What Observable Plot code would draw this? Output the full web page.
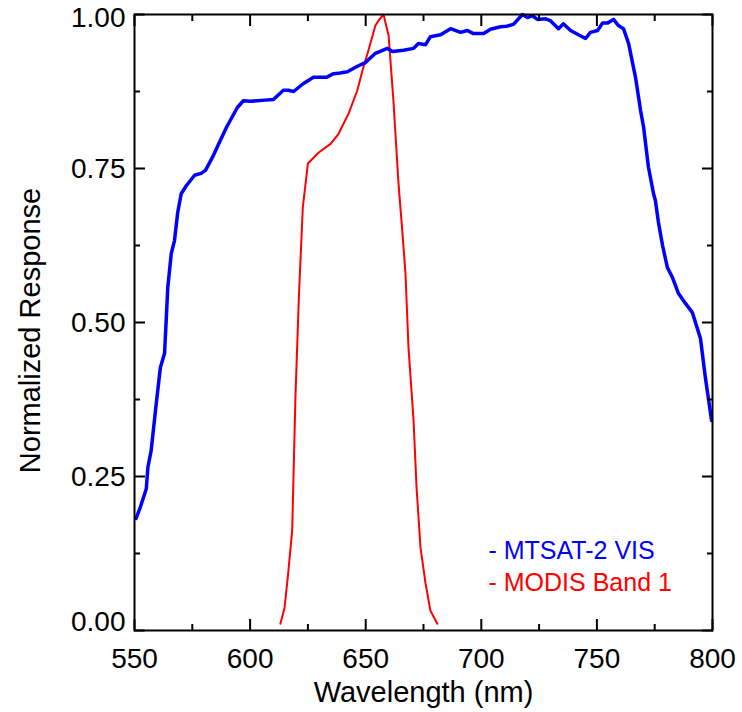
<!DOCTYPE html>
<html>
<head>
<meta charset="utf-8">
<script src="https://cdn.jsdelivr.net/npm/d3@7"></script>
<script src="https://cdn.jsdelivr.net/npm/@observablehq/plot@0.6"></script>
<style>
  html, body { margin: 0; padding: 0; background: #fff; }
  #chart svg { display: block; }
</style>
</head>
<body>
<div id="chart"></div>
<script>
// MTSAT-2 VIS spectral response
const mtsatWavelength = [550.7, 552.5, 555.1, 555.8, 557.2, 559.4, 561.2, 563.0, 563.7, 564.4, 565.9, 567.3, 568.7, 570.2, 572.4, 576.0, 578.8, 580.7, 583.7, 586.3, 589.8, 594.5, 597.1, 600.2, 603.2, 606.5, 610.1, 614.4, 616.5, 618.8, 623.1, 627.4, 630.5, 633.0, 636.1, 639.0, 642.1, 646.4, 649.9, 654.2, 659.4, 661.6, 666.3, 670.7, 672.8, 675.9, 678.0, 682.4, 686.7, 691.0, 694.0, 696.6, 701.0, 704.0, 708.3, 711.0, 713.9, 717.8, 720.0, 722.1, 724.3, 727.8, 729.9, 733.4, 735.5, 738.6, 741.6, 745.1, 747.2, 750.3, 752.4, 754.5, 757.2, 759.3, 761.5, 763.7, 766.7, 768.9, 770.2, 772.3, 774.5, 775.3, 776.6, 778.4, 780.5, 782.7, 785.3, 788.3, 791.3, 794.8, 796.9, 799.6];
const mtsatResponse = [0.182, 0.200, 0.230, 0.265, 0.292, 0.368, 0.427, 0.450, 0.503, 0.557, 0.612, 0.633, 0.679, 0.709, 0.722, 0.739, 0.742, 0.747, 0.768, 0.789, 0.817, 0.849, 0.860, 0.859, 0.860, 0.861, 0.862, 0.877, 0.877, 0.875, 0.888, 0.898, 0.898, 0.898, 0.904, 0.905, 0.907, 0.916, 0.922, 0.937, 0.945, 0.940, 0.942, 0.945, 0.953, 0.951, 0.964, 0.967, 0.977, 0.971, 0.974, 0.969, 0.969, 0.976, 0.980, 0.981, 0.984, 1.000, 0.995, 0.998, 0.992, 0.993, 0.990, 0.977, 0.985, 0.974, 0.968, 0.961, 0.971, 0.974, 0.986, 0.986, 0.992, 0.982, 0.977, 0.953, 0.898, 0.844, 0.817, 0.752, 0.709, 0.698, 0.663, 0.625, 0.589, 0.573, 0.547, 0.531, 0.516, 0.474, 0.411, 0.341];

// MODIS Band 1 spectral response
const modisWavelength = [613.1, 614.9, 616.4, 618.2, 619.6, 621.1, 622.8, 625.0, 629.7, 634.8, 638.2, 642.6, 646.4, 648.6, 651.2, 654.2, 655.5, 657.7, 659.9, 662.0, 664.2, 665.8, 667.2, 668.5, 670.7, 672.0, 673.7, 675.9, 678.0, 681.0];
const modisResponse = [0.011, 0.037, 0.090, 0.162, 0.378, 0.541, 0.687, 0.758, 0.776, 0.790, 0.806, 0.839, 0.877, 0.909, 0.942, 0.982, 0.990, 1.000, 0.966, 0.860, 0.725, 0.650, 0.580, 0.460, 0.341, 0.232, 0.135, 0.076, 0.032, 0.011];

const xMajorTicks = [550, 600, 650, 700, 750, 800];
const xMinorTicks = [575, 625, 675, 725, 775];
const yMajorTicks = [0, 0.25, 0.5, 0.75, 1.0];
const yMinorTicks = [0.125, 0.375, 0.625, 0.875];
const yTickLabels = ["0.00", "0.25", "0.50", "0.75", "1.00"];
const seriesNames = ["- MTSAT-2 VIS", "- MODIS Band 1"];
const seriesColors = ["#0000ff", "#ff0000"];

const mtsat = mtsatWavelength.map((w, i) => ({w, r: mtsatResponse[i]}));
const modis = modisWavelength.map((w, i) => ({w, r: modisResponse[i]}));
const yFmt = (d) => yTickLabels[yMajorTicks.indexOf(d)];

const font = "'Liberation Sans', Arial, Helvetica, sans-serif";

const chart = Plot.plot({
  width: 742,
  height: 712,
  marginLeft: 134,
  marginRight: 30,
  marginTop: 14,
  marginBottom: 82,
  style: {fontFamily: font, background: "#fff", color: "#000"},
  x: {domain: [550, 800]},
  y: {domain: [0, 1]},
  marks: [
    Plot.line(modis, {x: "w", y: "r", stroke: seriesColors[1], strokeWidth: 2}),
    Plot.line(mtsat, {x: "w", y: "r", stroke: seriesColors[0], strokeWidth: 3.5}),
    Plot.frame({stroke: "#000", strokeWidth: 2}),
    // inward ticks, all four sides
    Plot.axisX({anchor: "bottom", ticks: xMajorTicks, tickSize: -11, strokeWidth: 2, text: null, label: null}),
    Plot.axisX({anchor: "bottom", ticks: xMinorTicks, tickSize: -6, strokeWidth: 2, text: null, label: null}),
    Plot.axisX({anchor: "top", ticks: xMajorTicks, tickSize: -11, strokeWidth: 2, text: null, label: null}),
    Plot.axisX({anchor: "top", ticks: xMinorTicks, tickSize: -6, strokeWidth: 2, text: null, label: null}),
    Plot.axisY({anchor: "left", ticks: yMajorTicks, tickSize: -11, strokeWidth: 2, text: null, label: null}),
    Plot.axisY({anchor: "left", ticks: yMinorTicks, tickSize: -6, strokeWidth: 2, text: null, label: null}),
    Plot.axisY({anchor: "right", ticks: yMajorTicks, tickSize: -11, strokeWidth: 2, text: null, label: null}),
    Plot.axisY({anchor: "right", ticks: yMinorTicks, tickSize: -6, strokeWidth: 2, text: null, label: null}),
    // tick labels
    Plot.axisX({anchor: "bottom", ticks: xMajorTicks, tickSize: 0, tickPadding: 18, fontSize: 28, label: null, fill: "#000"}),
    Plot.axisY({anchor: "left", ticks: yMajorTicks.slice(1, 4), tickSize: 0, tickPadding: 9, fontSize: 28, label: null, fill: "#000", dy: 1, tickFormat: yFmt}),
    Plot.axisY({anchor: "left", ticks: [yMajorTicks[0]], tickSize: 0, tickPadding: 9, fontSize: 28, label: null, fill: "#000", dy: -8, tickFormat: yFmt}),
    Plot.axisY({anchor: "left", ticks: [yMajorTicks[4]], tickSize: 0, tickPadding: 9, fontSize: 28, label: null, fill: "#000", dy: 4, tickFormat: yFmt}),
    // axis titles
    Plot.text(["Wavelength (nm)"], {frameAnchor: "bottom", dy: 62, fontSize: 29, fill: "#000", textAnchor: "middle", lineAnchor: "middle"}),
    Plot.text(["Normalized Response"], {frameAnchor: "left", rotate: -90, dx: -104, dy: 8, fontSize: 29, fill: "#000", textAnchor: "middle", lineAnchor: "middle"}),
    // legend
    Plot.text([seriesNames[0]], {frameAnchor: "bottom-left", dx: 354, dy: -80, textAnchor: "start", lineAnchor: "middle", fontSize: 25, fill: seriesColors[0]}),
    Plot.text([seriesNames[1]], {frameAnchor: "bottom-left", dx: 354, dy: -48, textAnchor: "start", lineAnchor: "middle", fontSize: 25, fill: seriesColors[1]})
  ]
});

document.getElementById("chart").appendChild(chart);
</script>
</body>
</html>
